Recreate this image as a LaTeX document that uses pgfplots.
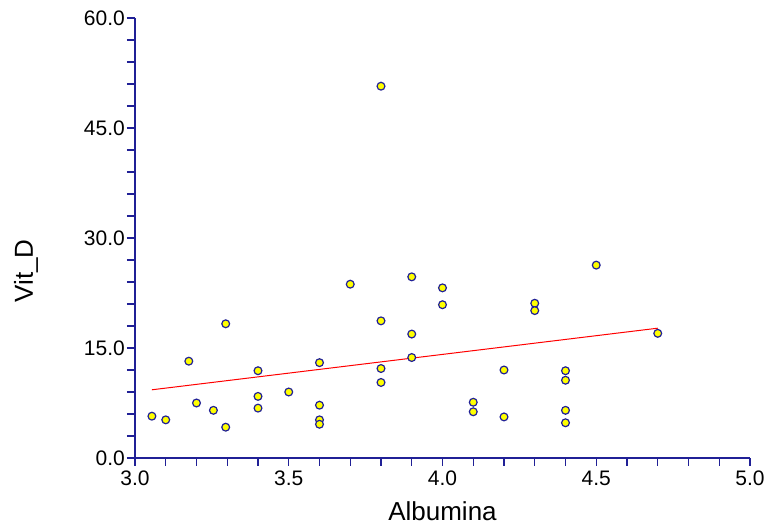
\documentclass[border=0pt]{standalone}
\usepackage{fontspec}
\setmainfont{Liberation Sans}
\usepackage{pgfplots}
\pgfplotsset{compat=1.18}
\definecolor{axisblue}{RGB}{32,32,150}
\definecolor{ptyellow}{RGB}{255,255,0}
\begin{document}
\begin{tikzpicture}
\begin{axis}[
  scale only axis,
  width=615bp, height=440bp,
  xmin=3, xmax=5, ymin=0, ymax=60,
  axis x line=bottom, axis y line=left,
  axis line style={-, axisblue, line width=1.2bp},
  every tick/.style={axisblue, line width=1.1bp},
  tick align=outside,
  major tick length=8bp, minor tick length=8bp,
  xtick={3,3.5,4,4.5,5}, minor x tick num=4,
  ytick={0,15,30,45,60}, minor y tick num=4,
  /pgf/number format/assume math mode=true,
  xticklabel={\pgfmathprintnumber[fixed,precision=1,zerofill]{\tick}},
  yticklabel={\pgfmathprintnumber[fixed,precision=1,zerofill]{\tick}},
  tick label style={font=\fontsize{21bp}{25bp}\selectfont, black},
  yticklabel style={inner xsep=2bp},
  xticklabel style={inner ysep=5bp},
  clip=false,
]
\addplot[only marks, mark=*, mark size=3.9bp,
  mark options={fill=ptyellow, draw=axisblue, line width=1.2bp}] coordinates {
(3.055,5.7) (3.10,5.2) (3.175,13.2) (3.20,7.5) (3.255,6.5)
(3.295,18.3) (3.295,4.2) (3.40,11.9) (3.40,8.4) (3.40,6.8)
(3.50,9.0) (3.60,13.0) (3.60,7.2) (3.60,5.2) (3.60,4.6)
(3.70,23.7) (3.80,50.7) (3.80,18.7) (3.80,12.2) (3.80,10.3)
(3.90,24.7) (3.90,16.9) (3.90,13.7) (4.00,23.2) (4.00,20.9)
(4.10,7.6) (4.10,6.3) (4.20,12.0) (4.20,5.6) (4.30,21.1)
(4.30,20.1) (4.40,11.9) (4.40,10.6) (4.40,6.5) (4.40,4.8)
(4.50,26.3) (4.70,17.0)
};
\addplot[red, line width=1bp] coordinates {(3.055,9.3) (4.70,17.7)};
\node[rotate=90, anchor=base, font=\fontsize{26bp}{30bp}\selectfont] at ([xshift=-102bp]rel axis cs:0,0.425) {Vit\_D};
\node[anchor=base, font=\fontsize{26bp}{30bp}\selectfont] at ([yshift=-63bp]rel axis cs:0.5,0) {Albumina};
\coordinate (ll) at (rel axis cs:0,0);
\coordinate (ur) at (rel axis cs:1,1);
\end{axis}
\pgfresetboundingbox
\path[use as bounding box] ([shift={(-135bp,-70bp)}]ll) rectangle ([shift={(17bp,18bp)}]ur);
\end{tikzpicture}
\end{document}
